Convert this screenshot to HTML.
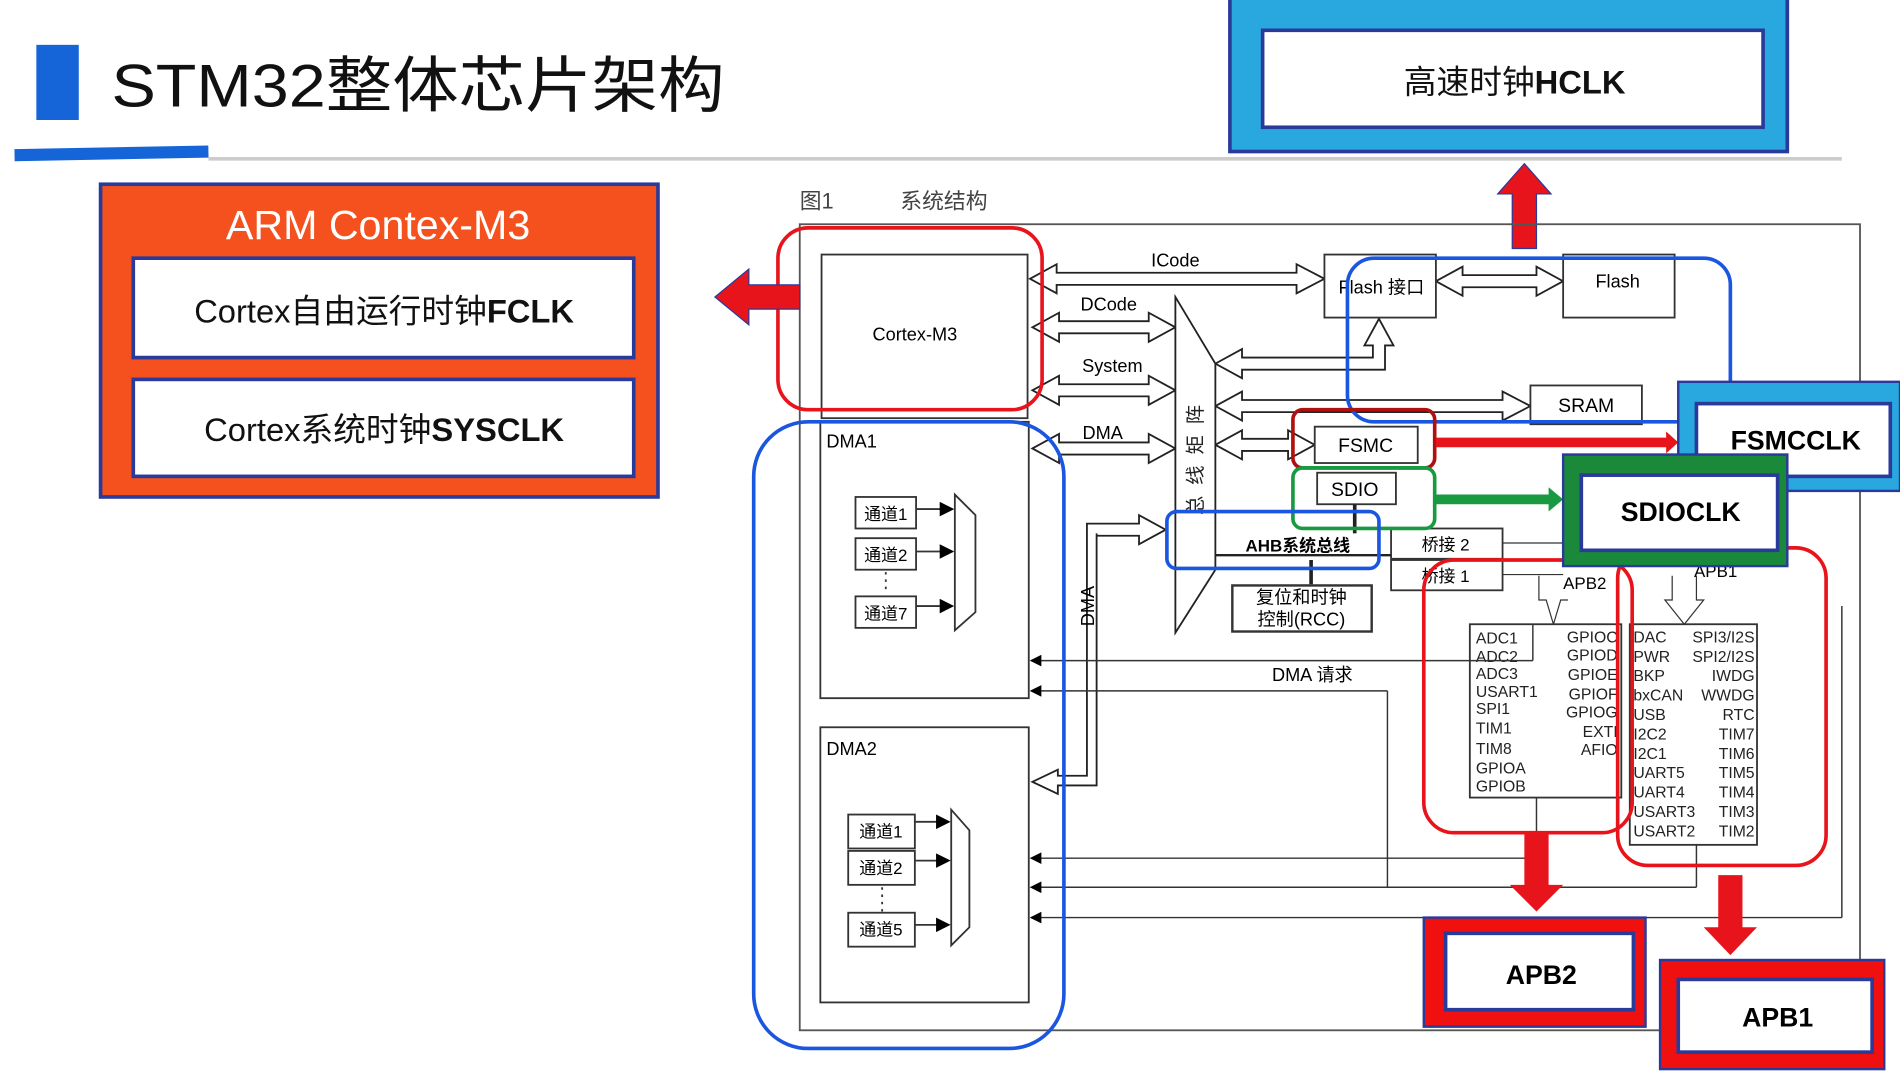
<!DOCTYPE html>
<html><head><meta charset="utf-8"><style>
html,body{margin:0;padding:0;background:#fff;width:1900px;height:1080px;overflow:hidden}
svg{display:block}
text{font-family:"Liberation Sans","Noto Sans CJK SC",sans-serif}
</style></head><body>
<svg width="1900" height="1080" viewBox="0 0 1568 891" preserveAspectRatio="none" xmlns="http://www.w3.org/2000/svg">
<defs>
<marker id="ah" markerWidth="8" markerHeight="8" refX="7" refY="4" orient="auto"><path d="M0,0 L8,4 L0,8 z" fill="#000"/></marker>
</defs>
<!-- title -->
<rect x="30" y="37" width="35" height="62" fill="#1565d8"/>
<text x="92" y="88" font-size="50" fill="#111" textLength="506" lengthAdjust="spacingAndGlyphs">STM32整体芯片架构</text>
<path d="M12,128 L172,125" stroke="#1565d8" stroke-width="10"/>
<line x1="172" y1="131" x2="1520" y2="131" stroke="#ccc" stroke-width="3"/>
<!-- ARM box -->
<rect x="83" y="152" width="460" height="258" fill="#f4511e" stroke="#2a3a9a" stroke-width="3"/>
<text x="312" y="197" font-size="34" fill="#fff" text-anchor="middle">ARM Contex-M3</text>
<rect x="110" y="213" width="413" height="82" fill="#fff" stroke="#2a3a9a" stroke-width="3"/>
<text x="317" y="266" font-size="27" text-anchor="middle" fill="#111">Cortex自由运行时钟<tspan font-weight="bold">FCLK</tspan></text>
<rect x="110" y="313" width="413" height="80" fill="#fff" stroke="#2a3a9a" stroke-width="3"/>
<text x="317" y="364" font-size="27" text-anchor="middle" fill="#111">Cortex系统时钟<tspan font-weight="bold">SYSCLK</tspan></text>
<!-- HCLK -->
<rect x="1015" y="-3" width="460" height="128" fill="#29a8e0" stroke="#2a3a9a" stroke-width="3"/>
<rect x="1042" y="25" width="413" height="80" fill="#fff" stroke="#2a3a9a" stroke-width="3"/>
<text x="1250" y="77" font-size="27" text-anchor="middle" fill="#111">高速时钟<tspan font-weight="bold">HCLK</tspan></text>
<path d="M1248,205 L1248,160 L1236,160 L1258,135 L1280,160 L1268,160 L1268,205 z" fill="#e8141c" stroke="#2a3a9a" stroke-width="1"/>
<!-- diagram frame -->
<text x="660" y="172" font-size="18" fill="#444">图1</text>
<text x="743" y="172" font-size="18" fill="#444">系统结构</text>
<rect x="660" y="185" width="875" height="665" fill="none" stroke="#555" stroke-width="1.5"/>
<!-- Cortex -->
<rect x="678" y="210" width="170" height="135" fill="#fff" stroke="#333" stroke-width="1.5"/>
<text x="755" y="281" font-size="15" text-anchor="middle">Cortex-M3</text>
<!-- hollow double arrows -->
<g fill="#fff" stroke="#222" stroke-width="1.5">
<path d="M850,230 L872,218 L872,225 L1070,225 L1070,218 L1093,230 L1070,242 L1070,235 L872,235 L872,242 z"/>
<path d="M852,270 L874,258 L874,265 L948,265 L948,258 L970,270 L948,282 L948,275 L874,275 L874,282 z"/>
<path d="M852,322 L874,310 L874,317 L948,317 L948,310 L970,322 L948,334 L948,327 L874,327 L874,334 z"/>
<path d="M852,370 L874,358 L874,365 L948,365 L948,358 L970,370 L948,382 L948,375 L874,375 L874,382 z"/>
<path d="M1185,232 L1207,220 L1207,227 L1268,227 L1268,220 L1290,232 L1268,244 L1268,237 L1207,237 L1207,244 z"/>
<path d="M1003,300 L1025,288 L1025,295 L1133,295 L1133,285 L1126,285 L1138,263 L1150,285 L1143,285 L1143,305 L1025,305 L1025,312 z"/>
<path d="M1003,335 L1025,323 L1025,330 L1240,330 L1240,323 L1263,335 L1240,347 L1240,340 L1025,340 L1025,347 z"/>
<path d="M1003,367 L1025,355 L1025,362 L1063,362 L1063,355 L1085,367 L1063,379 L1063,372 L1025,372 L1025,379 z"/>
<path d="M905,440 L905,648 L873,648 L873,655 L852,645 L873,635 L873,640 L897,640 L897,432 L940,432 L940,425 L962,437 L940,449 L940,442 L905,442 z"/>
</g>
<text x="970" y="220" font-size="15" text-anchor="middle">ICode</text>
<text x="915" y="256" font-size="15" text-anchor="middle">DCode</text>
<text x="918" y="307" font-size="15" text-anchor="middle">System</text>
<text x="910" y="362" font-size="15" text-anchor="middle">DMA</text>
<text x="903" y="500" font-size="15" text-anchor="middle" transform="rotate(-90 903 500)">DMA</text>
<!-- bus matrix -->
<path d="M970,245 L1003,300 L1003,470 L970,522 z" fill="#fff" stroke="#222" stroke-width="1.5"/>
<text x="992" y="375" font-size="16" fill="#222" text-anchor="middle" letter-spacing="9" transform="rotate(-90 992 375)">总线矩阵</text>
<!-- boxes -->
<g fill="#fff" stroke="#333" stroke-width="1.5">
<rect x="1093" y="210" width="92" height="52"/>
<rect x="1290" y="210" width="92" height="52"/>
<rect x="1263" y="318" width="92" height="32"/>
<rect x="1085" y="352" width="85" height="30"/>
<rect x="1087" y="390" width="65" height="26"/>
<rect x="1148" y="436" width="92" height="25"/>
<rect x="1148" y="462" width="92" height="25"/>
<rect x="1017" y="483" width="115" height="38" stroke-width="2"/>
</g>
<text x="1140" y="242" font-size="15" text-anchor="middle">Flash 接口</text>
<text x="1335" y="237" font-size="15" text-anchor="middle">Flash</text>
<text x="1309" y="340" font-size="16" text-anchor="middle">SRAM</text>
<text x="1127" y="373" font-size="16" text-anchor="middle">FSMC</text>
<text x="1118" y="409" font-size="16" text-anchor="middle">SDIO</text>
<line x1="1003" y1="458" x2="1148" y2="458" stroke="#222" stroke-width="2"/>
<text x="1071" y="455" font-size="14" font-weight="bold" text-anchor="middle">AHB系统总线</text>
<text x="1193" y="454" font-size="14" text-anchor="middle">桥接 2</text>
<text x="1193" y="480" font-size="14" text-anchor="middle">桥接 1</text>
<text x="1074" y="498" font-size="15" text-anchor="middle">复位和时钟</text>
<text x="1074" y="516" font-size="15" text-anchor="middle">控制(RCC)</text>
<line x1="1082" y1="462" x2="1082" y2="482" stroke="#222" stroke-width="3"/>
<line x1="1118" y1="416" x2="1118" y2="440" stroke="#222" stroke-width="3"/>
<line x1="1240" y1="448" x2="1290" y2="448" stroke="#333"/>
<line x1="1240" y1="474" x2="1290" y2="474" stroke="#333"/>
<path d="M1270,475 L1270,495 L1276,495 L1282,515 L1288,495 L1294,495" fill="none" stroke="#333"/>
<path d="M1380,475 L1380,495 L1374,495 L1390,515 L1406,495 L1400,495 L1400,475" fill="#fff" stroke="#333"/>
<text x="1290" y="486" font-size="14">APB2</text>
<text x="1398" y="476" font-size="14">APB1</text>
<!-- peripheral boxes -->
<rect x="1213" y="515" width="125" height="143" fill="#fff" stroke="#333" stroke-width="1.5"/>
<rect x="1345" y="515" width="105" height="182" fill="#fff" stroke="#333" stroke-width="1.5"/>
<g font-size="13" fill="#222">
<text x="1218" y="531">ADC1</text><text x="1218" y="546">ADC2</text><text x="1218" y="560">ADC3</text><text x="1218" y="575">USART1</text><text x="1218" y="589">SPI1</text><text x="1218" y="605">TIM1</text><text x="1218" y="622">TIM8</text><text x="1218" y="638">GPIOA</text><text x="1218" y="653">GPIOB</text>
<g text-anchor="end"><text x="1335" y="530">GPIOC</text><text x="1335" y="545">GPIOD</text><text x="1335" y="561">GPIOE</text><text x="1335" y="577">GPIOF</text><text x="1335" y="592">GPIOG</text><text x="1335" y="608">EXTI</text><text x="1335" y="623">AFIO</text></g>
<text x="1348" y="530">DAC</text><text x="1348" y="546">PWR</text><text x="1348" y="562">BKP</text><text x="1348" y="578">bxCAN</text><text x="1348" y="594">USB</text><text x="1348" y="610">I2C2</text><text x="1348" y="626">I2C1</text><text x="1348" y="642">UART5</text><text x="1348" y="658">UART4</text><text x="1348" y="674">USART3</text><text x="1348" y="690">USART2</text>
<g text-anchor="end"><text x="1448" y="530">SPI3/I2S</text><text x="1448" y="546">SPI2/I2S</text><text x="1448" y="562">IWDG</text><text x="1448" y="578">WWDG</text><text x="1448" y="594">RTC</text><text x="1448" y="610">TIM7</text><text x="1448" y="626">TIM6</text><text x="1448" y="642">TIM5</text><text x="1448" y="658">TIM4</text><text x="1448" y="674">TIM3</text><text x="1448" y="690">TIM2</text></g>
</g>
<!-- DMA request lines -->
<g stroke="#333" stroke-width="1.2" fill="none">
<line x1="1265" y1="545" x2="851" y2="545" marker-end="url(#ah)"/>
<line x1="1145" y1="570" x2="851" y2="570" marker-end="url(#ah)"/>
<line x1="1145" y1="570" x2="1145" y2="732"/>
<line x1="1265" y1="545" x2="1265" y2="515"/>
<line x1="1268" y1="658" x2="1268" y2="708"/>
<line x1="1268" y1="708" x2="851" y2="708" marker-end="url(#ah)"/>
<line x1="1400" y1="732" x2="851" y2="732" marker-end="url(#ah)"/>
<line x1="1400" y1="697" x2="1400" y2="732"/>
<line x1="1520" y1="757" x2="851" y2="757" marker-end="url(#ah)"/>
<line x1="1520" y1="757" x2="1520" y2="500"/>
</g>
<text x="1083" y="562" font-size="15" text-anchor="middle">DMA 请求</text>
<!-- DMA1 / DMA2 -->
<rect x="677" y="348" width="172" height="228" fill="none" stroke="#333" stroke-width="1.5"/>
<text x="682" y="369" font-size="15">DMA1</text>
<rect x="677" y="600" width="172" height="227" fill="none" stroke="#333" stroke-width="1.5"/>
<text x="682" y="623" font-size="15">DMA2</text>
<g fill="#fff" stroke="#333" stroke-width="1.5">
<rect x="706" y="410" width="50" height="26"/><rect x="706" y="444" width="50" height="26"/><rect x="706" y="492" width="50" height="26"/>
<path d="M788,408 L805,425 L805,505 L788,520 z"/>
<rect x="700" y="672" width="55" height="28"/><rect x="700" y="702" width="55" height="28"/><rect x="700" y="753" width="55" height="28"/>
<path d="M785,668 L800,685 L800,765 L785,780 z"/>
</g>
<g stroke="#333" stroke-width="1.5">
<line x1="756" y1="420" x2="786" y2="420" marker-end="url(#ah)"/><line x1="756" y1="455" x2="786" y2="455" marker-end="url(#ah)"/><line x1="756" y1="500" x2="786" y2="500" marker-end="url(#ah)"/>
<line x1="755" y1="678" x2="783" y2="678" marker-end="url(#ah)"/><line x1="755" y1="710" x2="783" y2="710" marker-end="url(#ah)"/><line x1="755" y1="763" x2="783" y2="763" marker-end="url(#ah)"/>
<line x1="731" y1="472" x2="731" y2="490" stroke-dasharray="2 4"/><line x1="728" y1="732" x2="728" y2="752" stroke-dasharray="2 4"/>
</g>
<g font-size="14" text-anchor="middle"><text x="731" y="429">通道1</text><text x="731" y="463">通道2</text><text x="731" y="511">通道7</text>
<text x="727" y="691">通道1</text><text x="727" y="721">通道2</text><text x="727" y="772">通道5</text></g>
<!-- highlights -->
<g fill="none" stroke-width="3">
<rect x="642" y="188" width="218" height="150" rx="25" stroke="#e8141c"/>
<rect x="622" y="348" width="256" height="517" rx="45" stroke="#1a56e0"/>
<rect x="1112" y="213" width="316" height="135" rx="22" stroke="#1a56e0"/>
<rect x="1067" y="338" width="117" height="48" rx="8" stroke="#b01010"/>
<rect x="1067" y="386" width="117" height="50" rx="8" stroke="#1a9a40"/>
<rect x="963" y="422" width="175" height="47" rx="8" stroke="#1a56e0"/>
<rect x="1175" y="462" width="172" height="225" rx="25" stroke="#e8141c"/>
<rect x="1335" y="452" width="172" height="262" rx="25" stroke="#e8141c"/>
</g>
<path d="M660,235 L618,235 L618,222 L590,245 L618,268 L618,255 L660,255 z" fill="#e8141c" stroke="#2a3a9a" stroke-width="1"/>
<path d="M1185,361 L1375,361 L1375,356 L1385,365 L1375,374 L1375,369 L1185,369 z" fill="#e8141c"/>
<path d="M1185,408 L1278,408 L1278,402 L1290,412 L1278,422 L1278,416 L1185,416 z" fill="#1a9a40"/>
<path d="M1258,687 L1278,687 L1278,730 L1290,730 L1268,752 L1246,730 L1258,730 z" fill="#e8141c"/>
<path d="M1418,722 L1438,722 L1438,765 L1450,765 L1428,788 L1406,765 L1418,765 z" fill="#e8141c"/>
<!-- clock boxes -->
<rect x="1385" y="315" width="183" height="90" fill="#29a8e0" stroke="#2a3a9a" stroke-width="2"/>
<rect x="1400" y="333" width="160" height="60" fill="#fff" stroke="#2a3a9a" stroke-width="3"/>
<text x="1482" y="371" font-size="22" font-weight="bold" text-anchor="middle">FSMCCLK</text>
<rect x="1290" y="375" width="185" height="92" fill="#1a8a3a" stroke="#2a3a9a" stroke-width="2"/>
<rect x="1305" y="392" width="162" height="62" fill="#fff" stroke="#2a3a9a" stroke-width="3"/>
<text x="1387" y="430" font-size="22" font-weight="bold" text-anchor="middle">SDIOCLK</text>
<rect x="1175" y="757" width="183" height="90" fill="#f01010" stroke="#2a3a9a" stroke-width="2"/>
<rect x="1193" y="770" width="155" height="63" fill="#fff" stroke="#2a3a9a" stroke-width="3"/>
<text x="1272" y="812" font-size="22" font-weight="bold" text-anchor="middle">APB2</text>
<rect x="1370" y="792" width="185" height="90" fill="#f01010" stroke="#2a3a9a" stroke-width="2"/>
<rect x="1385" y="808" width="160" height="60" fill="#fff" stroke="#2a3a9a" stroke-width="3"/>
<text x="1467" y="847" font-size="22" font-weight="bold" text-anchor="middle">APB1</text>
</svg>
</body></html>
